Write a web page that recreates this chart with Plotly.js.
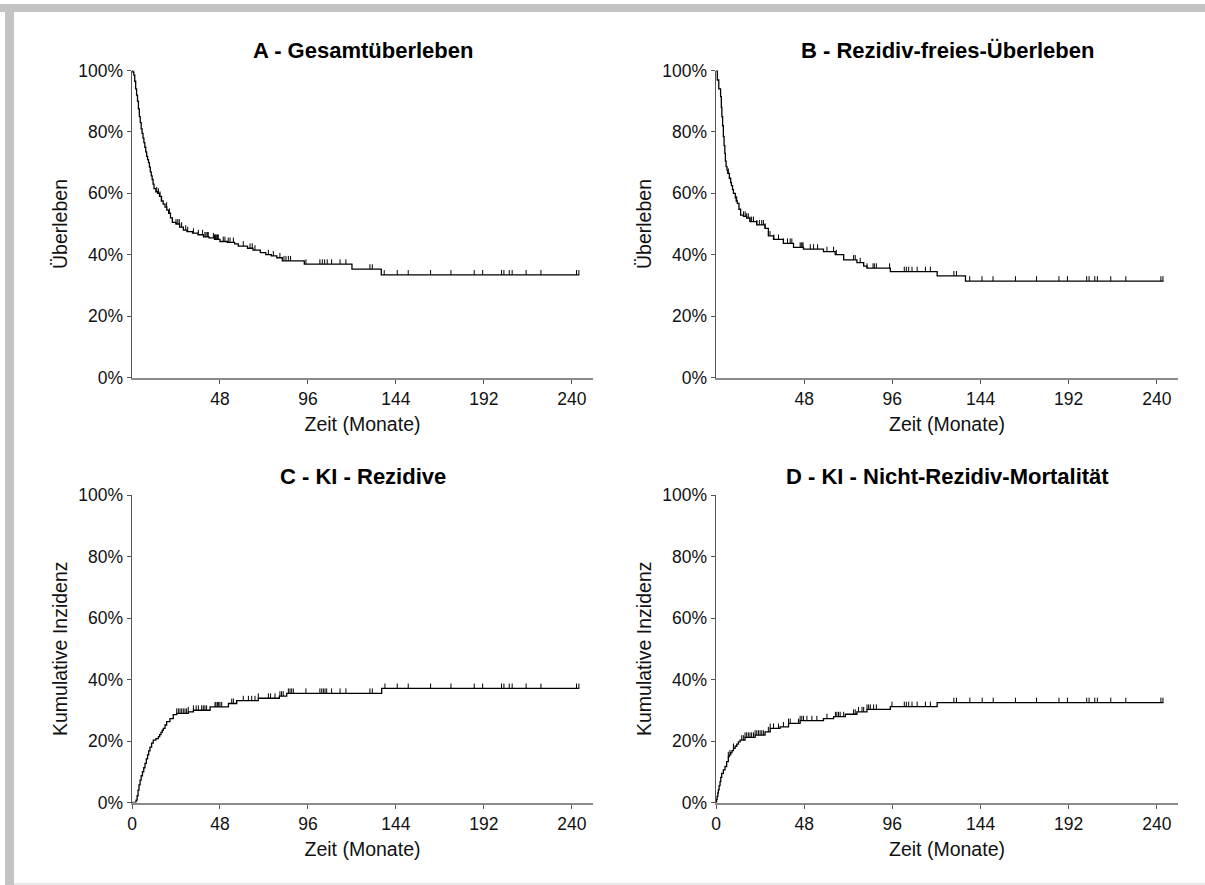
<!DOCTYPE html>
<html>
<head>
<meta charset="utf-8">
<script src="https://cdn.plot.ly/plotly-3.0.1.min.js"></script>
<style>
  html, body { margin: 0; padding: 0; background: #ffffff; }
  #chart { width: 1205px; height: 885px; }
</style>
</head>
<body>
<div id="chart"></div>
<script>
// ---------- Data ----------
const panelTitles = ["A - Gesamtüberleben", "B - Rezidiv-freies-Überleben", "C - KI - Rezidive", "D - KI - Nicht-Rezidiv-Mortalität"];
const yTitles = ["Überleben", "Überleben", "Kumulative Inzidenz", "Kumulative Inzidenz"];
const xTitle = "Zeit (Monate)";
const xTickTopRow = [48, 96, 144, 192, 240];
const xTickBottomRow = [0, 48, 96, 144, 192, 240];
const yTickVals = [0, 0.2, 0.4, 0.6, 0.8, 1.0];

// A - overall survival (step times in months, survival)
const timeA = [0, 0.5, 1, 1.5, 2, 2.5, 3, 3.5, 4, 4.5, 5, 5.5, 6, 6.5, 7, 7.5, 8, 8.5, 9, 9.5, 10, 10.5, 11, 11.5, 12, 13, 14, 15, 16, 17, 18, 19, 20, 21, 22, 24, 26, 28, 30, 33, 36, 39, 42, 45, 48, 52, 56, 58, 63, 66, 70, 73, 76, 79, 82, 94, 120, 136];
const survA = [1.0, 0.995, 0.985, 0.965, 0.94, 0.92, 0.90, 0.875, 0.85, 0.83, 0.81, 0.795, 0.78, 0.765, 0.75, 0.735, 0.72, 0.71, 0.70, 0.685, 0.67, 0.657, 0.645, 0.63, 0.615, 0.605, 0.60, 0.59, 0.575, 0.565, 0.555, 0.545, 0.535, 0.52, 0.505, 0.50, 0.49, 0.48, 0.475, 0.47, 0.465, 0.458, 0.455, 0.45, 0.443, 0.44, 0.435, 0.428, 0.421, 0.415, 0.407, 0.40, 0.396, 0.39, 0.38, 0.369, 0.353, 0.334];
const censA = [13.5, 14.4, 15.3, 16.2, 18.9, 20.4, 24, 25, 25.8, 27.1, 29.3, 30.4, 33.5, 36.2, 38.5, 39.8, 40.4, 41.1, 41.6, 44.4, 45, 45.5, 46, 46.6, 47.1, 49.8, 50.7, 52.5, 53.5, 55.3, 60.7, 64.4, 65.6, 67.1, 74.4, 77.1, 80.7, 82.9, 84, 85.3, 86.5, 94.9, 102.5, 103.8, 105.1, 106.5, 108.9, 113.5, 116.7, 129.8, 131.1, 137.6, 144.7, 150.7, 162.9, 174, 186.7, 191.3, 201.6, 202.9, 205.8, 207.4, 215, 223.1, 242.5, 243.8];

// B - relapse-free survival
const timeB = [0, 0.7, 1.5, 2.5, 2.9, 3.2, 3.6, 4, 4.4, 4.8, 5.1, 5.5, 6, 6.4, 7.3, 8, 8.4, 9, 9.5, 10.5, 11, 11.6, 12.5, 13.4, 15, 16.7, 18.5, 22.2, 26.7, 28.5, 31.3, 36.7, 42.2, 47.6, 58.5, 64.9, 69.5, 76.7, 80.4, 82.2, 94.9, 120.4, 135.8];
const survB = [1.0, 0.969, 0.94, 0.915, 0.88, 0.85, 0.82, 0.785, 0.755, 0.73, 0.705, 0.687, 0.675, 0.665, 0.649, 0.635, 0.625, 0.612, 0.60, 0.585, 0.575, 0.567, 0.548, 0.529, 0.525, 0.519, 0.508, 0.497, 0.486, 0.461, 0.45, 0.437, 0.424, 0.418, 0.41, 0.40, 0.383, 0.374, 0.363, 0.356, 0.345, 0.331, 0.314];
const censB = [6.7, 7.3, 11.3, 15, 15.9, 16.7, 17.6, 18.5, 19.4, 20.4, 22.2, 23.6, 24.9, 25.8, 26.7, 29.4, 31.5, 34, 36.7, 38.9, 40.4, 41.3, 45.8, 46.4, 46.9, 47.4, 51.3, 53.1, 55.3, 60.4, 64, 65.5, 74.9, 75.8, 78.5, 82.2, 85.5, 86.2, 87.3, 94.5, 102.5, 103.6, 104.9, 106.7, 109.5, 114, 116.7, 129.5, 130.9, 138.1, 144.8, 150.8, 163, 174.5, 186.7, 191.3, 201.8, 203.1, 206.2, 207.6, 214.9, 223.1, 242.2, 243.3];

// C - cumulative incidence of relapse
const timeC = [0, 2.2, 2.8, 3.3, 3.8, 4.4, 5, 5.7, 6.4, 7.1, 7.8, 8.5, 9.1, 9.8, 10.7, 11.6, 13, 14.4, 15.1, 15.8, 16.5, 17.1, 18, 18.9, 20.7, 22.5, 24.4, 30.7, 33.5, 42.6, 52.6, 57.1, 68.9, 80.4, 84.4, 136.2];
const incC = [0, 0.008, 0.022, 0.04, 0.057, 0.073, 0.087, 0.10, 0.113, 0.127, 0.142, 0.155, 0.168, 0.18, 0.193, 0.203, 0.208, 0.214, 0.221, 0.228, 0.235, 0.241, 0.252, 0.263, 0.273, 0.286, 0.29, 0.295, 0.30, 0.311, 0.322, 0.331, 0.339, 0.346, 0.355, 0.371];
const censC = [24.4, 25.3, 26.2, 27.1, 28, 28.9, 29.8, 30.7, 33.5, 35, 36.2, 38, 38.9, 39.8, 40.7, 45.3, 45.8, 46.6, 47.3, 48, 48.9, 54.4, 55.3, 60.7, 63.5, 65.3, 67.1, 68.9, 74.4, 75.6, 78, 80.7, 81.6, 82.5, 85.3, 86.2, 87.1, 88, 94.9, 102.5, 103.5, 104.4, 105.3, 106.2, 108.9, 113.5, 116.7, 129.8, 131.1, 138, 144.7, 150.7, 162.9, 174, 186.7, 191.3, 201.6, 202.9, 205.8, 207.4, 215, 223.1, 242.5, 243.8];

// D - cumulative incidence of non-relapse mortality
const timeD = [0, 0.3, 0.6, 1, 1.3, 1.7, 2.2, 2.6, 3.1, 4, 4.9, 5.8, 6.7, 7.3, 8, 8.7, 9.5, 10.4, 11.3, 12.2, 13.1, 15.8, 21.3, 26.7, 29.5, 34.9, 39.5, 45.8, 58.5, 64, 70.4, 76.7, 82.2, 94.9, 120.4];
const incD = [0, 0.01, 0.02, 0.031, 0.041, 0.055, 0.068, 0.082, 0.095, 0.106, 0.117, 0.133, 0.149, 0.155, 0.162, 0.169, 0.176, 0.183, 0.19, 0.197, 0.203, 0.212, 0.219, 0.23, 0.241, 0.246, 0.257, 0.266, 0.273, 0.279, 0.287, 0.295, 0.303, 0.312, 0.325];
const censD = [6.7, 7.6, 9.5, 14, 14.9, 15.8, 16.7, 17.6, 18.5, 19.4, 20.4, 21.3, 22.2, 23.1, 24, 24.9, 25.8, 28.5, 29.5, 31.3, 34, 36.7, 39.5, 40.4, 44.9, 45.8, 46.7, 47.6, 49.5, 52.2, 54.9, 60.4, 65, 65.8, 66.7, 67.6, 69.5, 74.9, 75.8, 77.6, 79.5, 80.4, 82.2, 83.1, 84, 85.8, 87.3, 95.8, 102.5, 103.6, 104.9, 106.7, 109.5, 114, 116.7, 129.5, 130.9, 138.2, 144.9, 150.9, 163, 174.5, 186.7, 191.3, 201.8, 203.1, 206.2, 207.6, 214.9, 223.1, 242.2, 243.3];

// follow-up end of each curve (months)
const endTimes = [244, 243.6, 244, 243.6];

// ---------- Build ----------
const panels = [
  {t: timeA, v: survA, c: censA},
  {t: timeB, v: survB, c: censB},
  {t: timeC, v: incC, c: censC},
  {t: timeD, v: incD, c: censD}
];

function stepAt(ts, vs, x) {
  let val = vs[0];
  for (let i = 0; i < ts.length; i++) { if (ts[i] <= x) val = vs[i]; else break; }
  return val;
}

const W = 1205, H = 885;
const px2x = p => p / W;
const py2y = p => 1 - p / H;
const xDomL = [px2x(132), px2x(593)];
const xDomR = [px2x(716), px2x(1178)];
const yDomT = [py2y(377.5), py2y(70.5)];
const yDomB = [py2y(802.5), py2y(495)];
const doms = [[xDomL, yDomT], [xDomR, yDomT], [xDomL, yDomB], [xDomR, yDomB]];

const traces = [];
panels.forEach((p, i) => {
  const n = i + 1;
  const xa = n === 1 ? 'x' : 'x' + n;
  const ya = n === 1 ? 'y' : 'y' + n;
  const xs = p.t.concat([endTimes[i]]);
  const ys = p.v.concat([p.v[p.v.length - 1]]);
  traces.push({
    x: xs, y: ys, xaxis: xa, yaxis: ya, type: 'scatter', mode: 'lines',
    line: {shape: 'hv', color: '#000000', width: 1.3}, hoverinfo: 'skip', showlegend: false
  });
  traces.push({
    x: p.c, y: p.c.map(c => stepAt(p.t, p.v, c)), xaxis: xa, yaxis: ya, type: 'scatter', mode: 'markers',
    marker: {size: 1, color: 'rgba(0,0,0,0)'},
    error_y: {type: 'constant', value: 0.016, valueminus: 0, symmetric: false, width: 0, thickness: 1, color: '#000000'},
    hoverinfo: 'skip', showlegend: false, cliponaxis: false
  });
});

const fam = 'Liberation Sans, Arial, sans-serif';
const layout = {
  width: W, height: H,
  margin: {l: 0, r: 0, t: 0, b: 0},
  paper_bgcolor: '#ffffff', plot_bgcolor: '#ffffff',
  font: {family: fam, size: 17, color: '#111111'},
  showlegend: false,
  annotations: [],
  shapes: [
    {type: 'rect', xref: 'paper', yref: 'paper', x0: 0, x1: 1, y0: py2y(12), y1: py2y(4), fillcolor: '#c3c3c3', line: {width: 0}, layer: 'below'},
    {type: 'rect', xref: 'paper', yref: 'paper', x0: px2x(5), x1: px2x(14), y0: 0, y1: py2y(4), fillcolor: '#c3c3c3', line: {width: 0}, layer: 'below'},
    {type: 'rect', xref: 'paper', yref: 'paper', x0: px2x(14), x1: 1, y0: 0, y1: py2y(883), fillcolor: '#e8e8e8', line: {width: 0}, layer: 'below'}
  ]
};

doms.forEach((d, i) => {
  const n = i + 1;
  const xk = n === 1 ? 'xaxis' : 'xaxis' + n;
  const yk = n === 1 ? 'yaxis' : 'yaxis' + n;
  const ya = n === 1 ? 'y' : 'y' + n;
  const xa = n === 1 ? 'x' : 'x' + n;
  layout[xk] = {
    domain: d[0], anchor: ya, range: [0, 251.5],
    tickmode: 'array', tickvals: i < 2 ? xTickTopRow : xTickBottomRow,
    showgrid: false, zeroline: false, showline: true, linecolor: '#8a8a8a', linewidth: 2,
    ticks: 'outside', ticklen: 4, tickwidth: 1, tickcolor: '#555555',
    tickfont: {family: fam, size: 17.5, color: '#111111'},
    title: {text: xTitle, font: {family: fam, size: 19.5, color: '#111111'}, standoff: 10},
    automargin: false, fixedrange: true
  };
  layout[yk] = {
    domain: d[1], anchor: xa, range: [0, 1],
    tickmode: 'array', tickvals: yTickVals, tickformat: '.0%',
    showgrid: false, zeroline: false, showline: true, linecolor: '#555555', linewidth: 1.5,
    ticks: 'outside', ticklen: 4, tickwidth: 1, tickcolor: '#555555',
    tickfont: {family: fam, size: 17.5, color: '#111111'},
    title: {text: yTitles[i], font: {family: fam, size: 19.5, color: '#111111'}, standoff: 5},
    automargin: false, fixedrange: true
  };
  layout.annotations.push({
    xref: 'paper', yref: 'paper', x: (d[0][0] + d[0][1]) / 2,
    y: i < 2 ? py2y(51) : py2y(476), xanchor: 'center', yanchor: 'middle',
    text: '<b>' + panelTitles[i] + '</b>', showarrow: false,
    font: {family: fam, size: 22, color: '#000000'}
  });
});

Plotly.newPlot('chart', traces, layout, {staticPlot: true, displayModeBar: false});
</script>
</body>
</html>
